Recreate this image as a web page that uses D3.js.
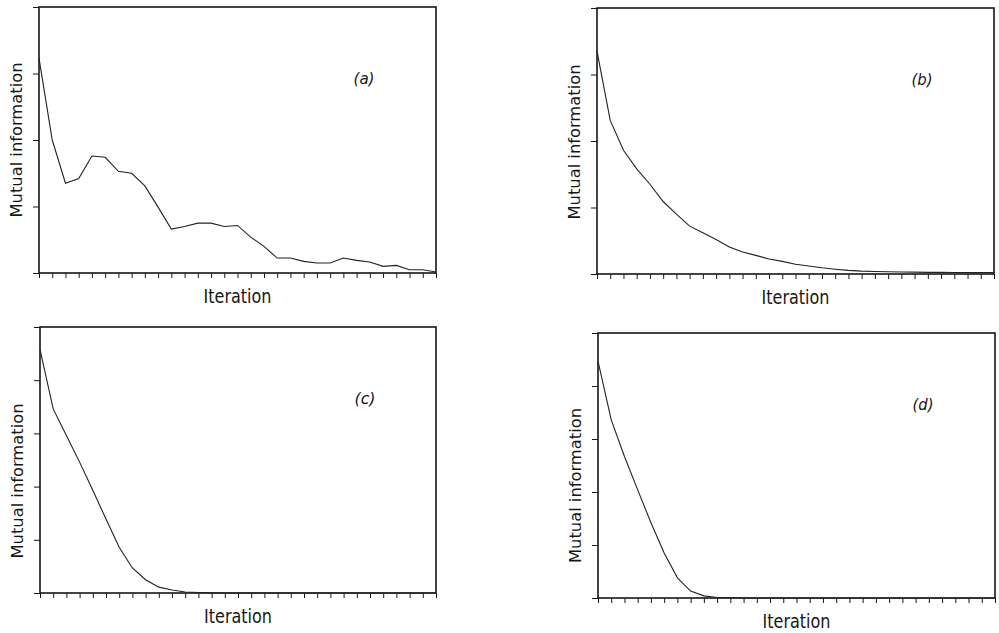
<!DOCTYPE html>
<html>
<head>
<meta charset="utf-8">
<script src="https://cdn.jsdelivr.net/npm/d3@7/dist/d3.min.js"></script>
<style>
body { margin: 0; background: #fff; }
svg { display: block; }
</style>
</head>
<body>
<div id="root"></div>
<script>
// iteration index on the x axis (no tick labels in the original)
const ITERATIONS = [0,1,2,3,4,5,6,7,8,9,10,11,12,13,14,15,16,17,18,19,20,21,22,23,24,25,26,27,28,29,30]

// mutual information per iteration
const MI_A = [3.23, 2.0, 1.35, 1.42, 1.76, 1.74, 1.53, 1.50, 1.31, 0.99, 0.66, 0.70, 0.75, 0.75, 0.70, 0.715,
	0.54, 0.40, 0.225, 0.225, 0.175, 0.15, 0.15, 0.225, 0.19, 0.165, 0.10, 0.115, 0.05, 0.05, 0.015]
const MI_B = [3.35, 2.31, 1.86, 1.58, 1.35, 1.09, 0.90, 0.72, 0.62, 0.52, 0.405, 0.33, 0.28, 0.225, 0.19, 0.146,
	0.12, 0.093, 0.072, 0.055, 0.043, 0.037, 0.033, 0.03, 0.028, 0.025, 0.024, 0.022, 0.02, 0.02, 0.02]
const MI_C = [4.58, 3.46, 2.96, 2.46, 1.93, 1.39, 0.86, 0.47, 0.25, 0.11, 0.056, 0.02, 0.01, 0.005, 0, 0,
	0, 0, 0, 0, 0, 0, 0, 0, 0, 0, 0, 0, 0, 0, 0]
const MI_D = [4.47, 3.36, 2.67, 2.04, 1.42, 0.85, 0.38, 0.13, 0.04, 0.01, 0.004, 0, 0, 0, 0, 0,
	0, 0, 0, 0, 0, 0, 0, 0, 0, 0, 0, 0, 0, 0, 0]

const Y_TICKS_AB = [0, 1, 2, 3, 4]
const Y_TICKS_CD = [0, 1, 2, 3, 4, 5]

const PANEL_LABELS = ["(a)", "(b)", "(c)", "(d)"]
const X_TITLE = "Iteration"
const Y_TITLE = "Mutual information"

const INK = "#161616"
const FONT = "'DejaVu Sans', sans-serif"

const width = 999, height = 633

const panels = [
	{ label: PANEL_LABELS[0], values: MI_A, yTicks: Y_TICKS_AB, left: 39, right: 436, top: 7, bottom: 273, titleShift: 0 },
	{ label: PANEL_LABELS[1], values: MI_B, yTicks: Y_TICKS_AB, left: 597, right: 994, top: 8, bottom: 274, titleShift: 1 },
	{ label: PANEL_LABELS[2], values: MI_C, yTicks: Y_TICKS_CD, left: 40, right: 436, top: 327, bottom: 593, titleShift: 21 },
	{ label: PANEL_LABELS[3], values: MI_D, yTicks: Y_TICKS_CD, left: 598, right: 995, top: 333, bottom: 598, titleShift: 20 },
]

const svg = d3.select('#root')
	.append('svg')
	.attr('width', width)
	.attr('height', height)
	.attr('viewBox', `0 0 ${width} ${height}`)

panels.forEach(p => drawPanel(p))

function drawPanel({ label, values, yTicks, left, right, top, bottom, titleShift }) {
	const x = d3.scaleLinear()
		.domain([ITERATIONS[0], ITERATIONS[ITERATIONS.length - 1]])
		.range([left, right])

	const y = d3.scaleLinear()
		.domain([0, yTicks[yTicks.length - 1]])
		.range([bottom, top])

	const g = svg.append('g')

	// x ticks, pointing down, no labels
	const xAxis = g.append('g')
		.attr('transform', `translate(0, ${bottom})`)
		.call(d3.axisBottom(x).tickValues(ITERATIONS).tickSize(5).tickSizeOuter(0).tickFormat(''))
	xAxis.select('.domain').remove()
	xAxis.selectAll('line').attr('stroke', INK).attr('stroke-width', 1)

	// y ticks, pointing out to the left
	const yAxis = g.append('g')
		.attr('transform', `translate(${left}, 0)`)
		.call(d3.axisLeft(y).tickValues(yTicks).tickSize(6).tickSizeOuter(0).tickFormat(''))
	yAxis.select('.domain').remove()
	yAxis.selectAll('line').attr('stroke', INK).attr('stroke-width', 1)

	// frame
	g.append('rect')
		.attr('x', left)
		.attr('y', top)
		.attr('width', right - left)
		.attr('height', bottom - top)
		.attr('fill', 'none')
		.attr('stroke', INK)
		.attr('stroke-width', 1.6)

	const line = d3.line()
		.x((d, i) => x(ITERATIONS[i]))
		.y(d => y(d))

	g.append('path')
		.datum(values)
		.attr('d', line)
		.attr('fill', 'none')
		.attr('stroke', '#222')
		.attr('stroke-width', 1.1)

	g.append('text')
		.attr('x', (left + right) / 2)
		.attr('y', bottom + 30)
		.attr('text-anchor', 'middle')
		.attr('textLength', 68)
		.attr('lengthAdjust', 'spacingAndGlyphs')
		.style('font-family', FONT)
		.style('font-size', '19px')
		.attr('fill', INK)
		.text(X_TITLE)

	const cy = (top + bottom) / 2 + titleShift
	g.append('text')
		.attr('transform', `translate(${left - 17}, ${cy}) rotate(-90)`)
		.attr('text-anchor', 'middle')
		.attr('textLength', 155)
		.attr('lengthAdjust', 'spacingAndGlyphs')
		.style('font-family', FONT)
		.style('font-size', '15px')
		.attr('fill', INK)
		.text(Y_TITLE)

	g.append('text')
		.attr('x', left + 325)
		.attr('y', top + 77)
		.attr('text-anchor', 'middle')
		.attr('textLength', 21)
		.attr('lengthAdjust', 'spacingAndGlyphs')
		.style('font-family', FONT)
		.style('font-size', '15px')
		.style('font-style', 'italic')
		.attr('fill', INK)
		.text(label)
}
</script>
</body>
</html>
